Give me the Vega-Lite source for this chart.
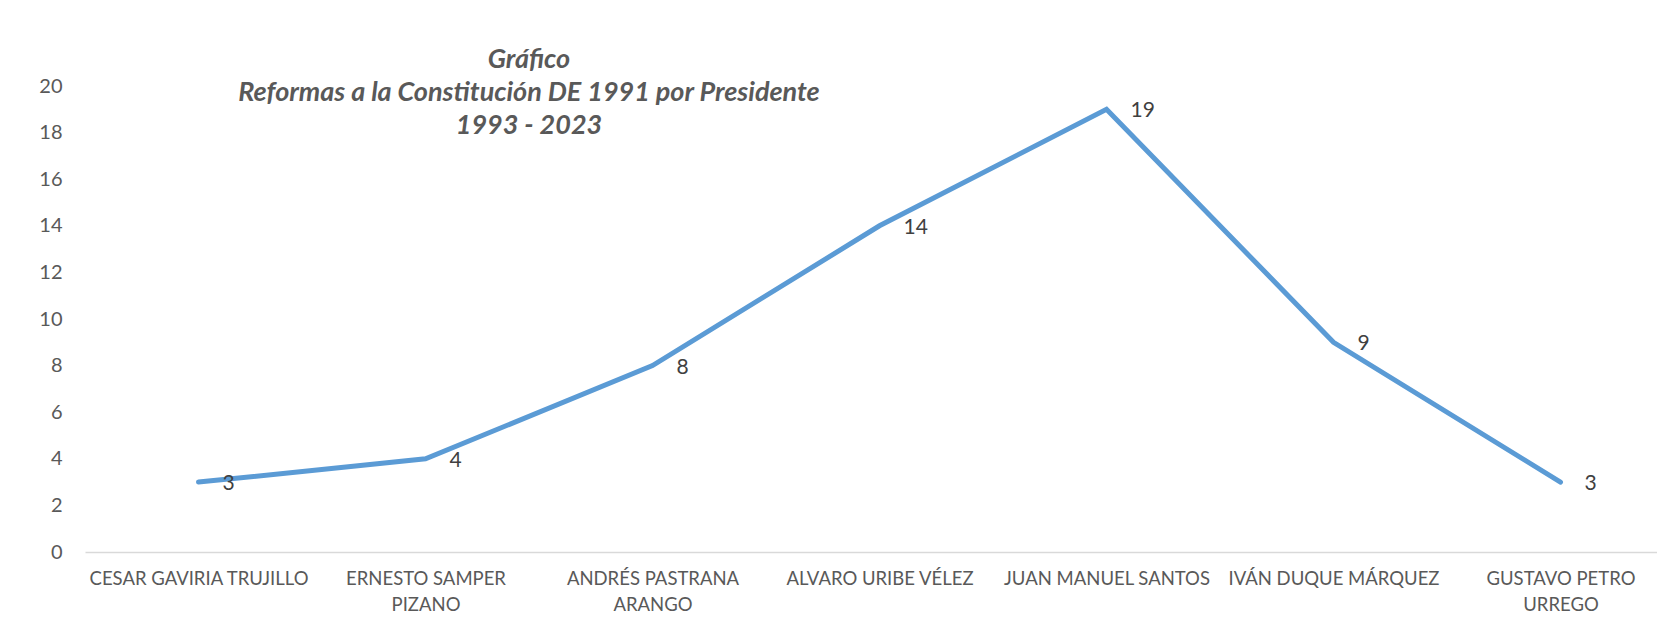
{
  "$schema": "https://vega.github.io/schema/vega-lite/v6.json",
  "autosize": {"type": "none"},
  "width": 1589,
  "height": 466,
  "padding": {"left": 85, "top": 86, "right": 0, "bottom": 66},
  "background": "#ffffff",
  "config": {
    "view": {"stroke": null},
    "font": "Lato"
  },
  "title": {
    "text": ["Gráfico", "Reformas a la Constitución DE 1991 por Presidente", "1993 - 2023"],
    "font": "Lato",
    "fontSize": 27,
    "fontWeight": "bold",
    "fontStyle": "italic",
    "color": "#595959",
    "lineHeight": 33,
    "anchor": "start",
    "align": "center",
    "frame": "group",
    "dx": 444,
    "baseline": "top",
    "offset": -64
  },
  "data": {
    "values": [
      {"presidente": "CESAR GAVIRIA TRUJILLO", "reformas": 3},
      {"presidente": "ERNESTO SAMPER PIZANO", "reformas": 4},
      {"presidente": "ANDRÉS PASTRANA ARANGO", "reformas": 8},
      {"presidente": "ALVARO URIBE VÉLEZ", "reformas": 14},
      {"presidente": "JUAN MANUEL SANTOS", "reformas": 19},
      {"presidente": "IVÁN DUQUE MÁRQUEZ", "reformas": 9},
      {"presidente": "GUSTAVO PETRO URREGO", "reformas": 3}
    ]
  },
  "encoding": {
    "x": {
      "field": "presidente",
      "type": "nominal",
      "sort": null,
      "scale": {"paddingInner": 0, "paddingOuter": 0.5},
      "axis": {
        "title": null,
        "labelAngle": 0,
        "ticks": false,
        "grid": false,
        "domainColor": "#d9d9d9",
        "domainWidth": 1.5,
        "labelColor": "#595959",
        "labelFont": "Lato",
        "labelFontSize": 18.5,
        "labelPadding": 17,
        "labelBaseline": "top",
        "labelLineHeight": 26,
        "labelLimit": 300,
        "labelExpr": "datum.value == 'ERNESTO SAMPER PIZANO' ? ['ERNESTO SAMPER','PIZANO'] : datum.value == 'ANDRÉS PASTRANA ARANGO' ? ['ANDRÉS PASTRANA','ARANGO'] : datum.value == 'GUSTAVO PETRO URREGO' ? ['GUSTAVO PETRO','URREGO'] : datum.value"
      }
    },
    "y": {
      "field": "reformas",
      "type": "quantitative",
      "scale": {"domain": [0, 20], "nice": false},
      "axis": {
        "title": null,
        "values": [0, 2, 4, 6, 8, 10, 12, 14, 16, 18, 20],
        "ticks": false,
        "domain": false,
        "grid": false,
        "labelColor": "#595959",
        "labelFont": "Lato",
        "labelFontSize": 20,
        "labelPadding": 23
      }
    }
  },
  "layer": [
    {
      "mark": {"type": "line", "color": "#5b9bd5", "strokeWidth": 5, "strokeCap": "round", "strokeJoin": "miter"}
    },
    {
      "mark": {"type": "text", "align": "left", "baseline": "middle", "dx": 24, "dy": 2, "font": "Lato", "fontSize": 21, "color": "#404040"},
      "encoding": {"text": {"field": "reformas", "type": "quantitative"}}
    }
  ]
}
